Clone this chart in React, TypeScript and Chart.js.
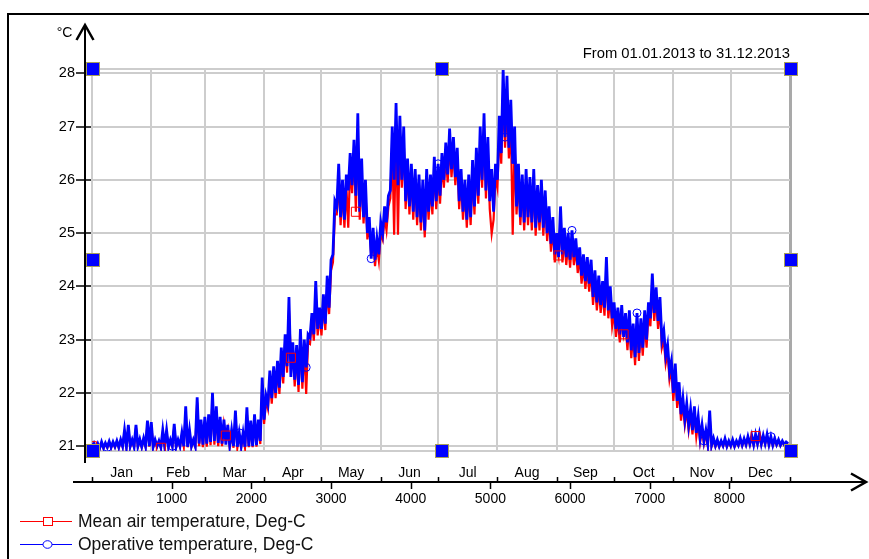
import React, { useEffect, useRef } from "react";
import { Chart, registerables } from "chart.js";

Chart.register(...registerables);

const titleText = "From 01.01.2013 to 31.12.2013";
const yUnit = "°C";
const seriesNames = ["Mean air temperature, Deg-C", "Operative temperature, Deg-C"];
const monthNames = ["Jan", "Feb", "Mar", "Apr", "May", "Jun", "Jul", "Aug", "Sep", "Oct", "Nov", "Dec"];
const monthStartHours = [0, 744, 1416, 2160, 2880, 3624, 4344, 5088, 5832, 6552, 7296, 8016, 8760];
const hourTicks = [1000, 2000, 3000, 4000, 5000, 6000, 7000, 8000];
const yTicks = [21, 22, 23, 24, 25, 26, 27, 28];
const stepHours = 24;

// Mean air temperature (one value per 24 h, alternating daily low/high)
const meanAirTemp = [
  21.00, 21.04, 20.96, 21.03, 20.95, 21.06, 20.96, 21.04, 20.97, 21.07,
  20.97, 21.06, 20.98, 21.08, 20.97, 21.10, 20.99, 21.25, 20.98, 21.35,
  20.99, 21.10, 20.98, 21.35, 20.99, 21.11, 20.98, 21.13, 20.99, 21.42,
  20.99, 21.40, 20.98, 21.10, 20.99, 21.08, 20.97, 21.25, 20.99, 21.25,
  20.98, 21.10, 20.99, 21.36, 20.98, 21.10, 20.99, 21.20, 20.99, 21.65,
  20.98, 21.25, 20.99, 21.10, 20.99, 21.82, 21.00, 21.42, 20.98, 21.46,
  20.99, 21.50, 21.02, 21.88, 21.03, 21.62, 21.00, 21.45, 21.00, 21.42,
  21.20, 21.33, 20.98, 21.24, 20.97, 21.55, 20.97, 21.20, 20.98, 21.20,
  20.97, 21.60, 20.98, 21.40, 20.98, 21.50, 20.99, 21.42, 21.04, 22.15,
  21.42, 21.85, 21.70, 22.28, 21.80, 22.38, 21.90, 22.45, 21.98, 22.70,
  22.18, 22.95, 22.38, 23.55, 22.66, 22.80, 22.12, 22.75, 22.02, 23.02,
  22.08, 22.85, 21.98, 22.95, 22.92, 23.35, 22.98, 23.85, 23.08, 23.45,
  23.08, 23.68, 23.18, 23.95, 23.48, 24.30, 24.45, 25.35, 25.35, 26.00,
  25.15, 25.80, 25.10, 25.90, 25.10, 26.25, 25.75, 26.50, 25.40, 26.90,
  25.25, 26.20, 25.18, 25.80, 24.88, 25.15, 24.58, 24.95, 24.38, 24.75,
  24.48, 25.00, 24.88, 25.30, 25.05, 25.50, 25.65, 26.70, 24.97, 27.10,
  24.97, 26.90, 25.85, 26.75, 25.45, 26.20, 25.35, 26.10, 25.25, 26.00,
  25.15, 25.90, 25.05, 25.80, 24.92, 25.95, 25.25, 25.90, 25.35, 26.20,
  25.45, 26.10, 25.55, 26.30, 25.85, 26.45, 25.95, 26.70, 26.05, 26.55,
  25.90, 26.40, 25.45, 26.00, 25.25, 25.80, 25.10, 25.90, 25.15, 26.10,
  25.35, 26.35, 25.55, 26.70, 25.85, 26.95, 25.65, 26.55, 25.45, 24.99,
  25.25, 26.05, 25.85, 26.90, 26.30, 27.60, 26.60, 27.45, 26.40, 27.10,
  24.97, 26.70, 25.35, 26.05, 25.15, 25.90, 25.05, 25.95, 25.15, 25.85,
  25.05, 25.95, 24.95, 25.70, 25.05, 25.80, 24.95, 25.60, 24.85, 25.30,
  24.65, 25.10, 24.45, 24.80, 24.58, 25.25, 24.45, 24.90, 24.40, 24.80,
  24.35, 24.85, 24.40, 24.70, 24.25, 24.55, 24.05, 24.40, 23.95, 24.35,
  23.90, 24.30, 23.65, 24.10, 23.55, 24.00, 23.50, 23.90, 23.45, 24.30,
  23.40, 23.80, 23.25, 23.50, 23.05, 23.40, 22.95, 23.45, 23.10, 23.30,
  22.80, 23.35, 22.65, 23.10, 22.52, 23.30, 22.60, 23.20, 22.70, 23.35,
  22.85, 23.50, 23.25, 24.00, 23.35, 23.78, 23.20, 23.60, 22.85, 23.00,
  22.55, 22.75, 22.25, 22.45, 21.85, 22.40, 21.72, 22.05, 21.48, 21.78,
  21.40, 21.68, 21.30, 21.60, 21.22, 21.62, 21.17, 21.45, 21.08, 21.32,
  21.05, 21.24, 21.01, 21.55, 21.00, 21.12, 20.99, 21.10, 20.99, 21.08,
  21.00, 21.12, 20.99, 21.08, 21.00, 21.10, 20.99, 21.08, 21.01, 21.12,
  21.01, 21.12, 21.02, 21.15, 21.03, 21.17, 21.02, 21.19, 21.04, 21.20,
  21.03, 21.17, 21.04, 21.19, 21.02, 21.15, 21.01, 21.12, 21.02, 21.10,
  21.01, 21.08, 21.02, 21.06, 21.04,
];

// Operative temperature (one value per 24 h, alternating daily low/high)
const operativeTemp = [
  21.00, 21.06, 20.97, 21.05, 20.96, 21.08, 20.97, 21.06, 20.98, 21.09,
  20.98, 21.08, 20.99, 21.10, 20.98, 21.12, 21.00, 21.30, 20.99, 21.40,
  21.00, 21.12, 20.99, 21.40, 21.00, 21.13, 20.99, 21.15, 21.00, 21.48,
  21.00, 21.45, 20.99, 21.12, 21.00, 21.10, 20.98, 21.30, 21.00, 21.30,
  20.99, 21.12, 21.00, 21.42, 20.99, 21.12, 21.00, 21.25, 21.00, 21.75,
  20.99, 21.30, 21.00, 21.12, 21.00, 21.92, 21.05, 21.50, 21.03, 21.55,
  21.05, 21.60, 21.08, 22.00, 21.10, 21.75, 21.06, 21.55, 21.05, 21.50,
  21.03, 21.40, 21.02, 21.30, 21.00, 21.67, 20.99, 21.25, 21.00, 21.25,
  20.99, 21.73, 21.00, 21.48, 21.00, 21.60, 21.02, 21.50, 21.10, 22.29,
  21.50, 21.95, 21.80, 22.42, 21.90, 22.50, 22.00, 22.60, 22.10, 22.85,
  22.30, 23.10, 22.50, 23.80, 22.30, 22.95, 22.25, 22.90, 22.15, 23.20,
  22.20, 23.00, 22.48, 23.10, 23.05, 23.50, 23.10, 24.10, 23.20, 23.60,
  23.20, 23.85, 23.30, 24.20, 23.60, 24.50, 24.60, 25.60, 25.50, 26.30,
  25.30, 26.00, 25.25, 26.10, 25.80, 26.50, 25.90, 26.75, 25.70, 27.25,
  25.40, 26.40, 25.30, 26.00, 25.00, 25.30, 24.52, 25.10, 24.50, 24.90,
  24.60, 25.20, 25.00, 25.50, 25.20, 25.70, 25.80, 27.00, 26.00, 27.44,
  25.90, 27.20, 26.00, 27.00, 25.60, 26.40, 25.50, 26.30, 25.40, 26.20,
  25.30, 26.10, 25.20, 26.00, 25.05, 26.20, 25.40, 26.10, 25.50, 26.43,
  25.60, 26.30, 25.70, 26.50, 26.00, 26.70, 26.10, 26.96, 26.20, 26.80,
  26.05, 26.60, 25.60, 26.20, 25.40, 26.00, 25.25, 26.10, 25.30, 26.37,
  25.50, 26.60, 25.70, 27.00, 26.00, 27.25, 25.80, 26.80, 25.60, 26.20,
  25.40, 26.30, 26.00, 27.20, 26.50, 28.08, 26.80, 27.95, 26.60, 27.50,
  26.30, 27.00, 25.50, 26.30, 25.30, 26.10, 25.20, 26.20, 25.30, 26.05,
  25.20, 26.20, 25.10, 25.90, 25.20, 26.00, 25.10, 25.80, 25.00, 25.50,
  24.80, 25.30, 24.60, 25.00, 24.55, 25.50, 24.60, 25.10, 24.55, 25.00,
  24.50, 25.05, 24.55, 24.90, 24.40, 24.73, 24.20, 24.60, 24.10, 24.55,
  24.05, 24.50, 23.80, 24.30, 23.70, 24.20, 23.65, 24.10, 23.60, 24.55,
  23.55, 24.00, 23.40, 23.70, 23.20, 23.60, 23.10, 23.65, 23.05, 23.50,
  22.95, 23.55, 22.80, 23.30, 22.67, 23.50, 22.75, 23.40, 22.85, 23.55,
  23.00, 23.70, 23.40, 24.24, 23.50, 23.98, 23.35, 23.80, 23.00, 23.17,
  22.70, 22.90, 22.40, 22.60, 22.00, 22.55, 21.85, 22.20, 21.60, 21.90,
  21.50, 21.80, 21.40, 21.70, 21.30, 21.75, 21.25, 21.55, 21.15, 21.40,
  21.10, 21.30, 21.05, 21.67, 21.02, 21.15, 21.01, 21.12, 21.00, 21.10,
  21.01, 21.14, 21.00, 21.10, 21.01, 21.12, 21.00, 21.10, 21.02, 21.15,
  21.02, 21.14, 21.03, 21.18, 21.04, 21.20, 21.03, 21.22, 21.05, 21.24,
  21.04, 21.20, 21.05, 21.22, 21.03, 21.18, 21.02, 21.15, 21.03, 21.12,
  21.02, 21.10, 21.03, 21.08, 21.05,
];

const meanAirMarkerIdx = [0, 36, 70, 104, 138, 244, 278, 347];
const operativeMarkerIdx = [8, 42, 77, 112, 146, 181, 216, 251, 285, 320, 355];

const FONT = "'Liberation Sans', Arial, sans-serif";
const RED = "#ff0000";
const BLUE = "#0000ff";
const GRID = "#cdcdcd";

const monthMidHours = monthNames.map((_, k) => (monthStartHours[k] + monthStartHours[k + 1]) / 2);

const toPoints = (arr: number[]) => arr.map((v, i) => ({ x: i * stepHours, y: v }));
const toMarkerPoints = (arr: number[], idx: number[]) => idx.map((i) => ({ x: i * stepHours, y: arr[i] }));

const decorPlugin = {
  id: "decor",
  beforeDraw(chart: any) {
    const { ctx, width, height } = chart;
    ctx.save();
    ctx.fillStyle = "#ffffff";
    ctx.fillRect(0, 0, width, height);
    ctx.strokeStyle = "#000";
    ctx.lineWidth = 2;
    ctx.beginPath();
    ctx.moveTo(8, height);
    ctx.lineTo(8, 14);
    ctx.lineTo(width, 14);
    ctx.stroke();
    ctx.restore();
  },
  afterDraw(chart: any) {
    const { ctx, chartArea: ca } = chart;
    const xs = chart.scales.x;
    const axisY = chart.scales.xh.top;
    const axisX = ca.left - 7;
    ctx.save();

    // plot top border
    ctx.strokeStyle = GRID;
    ctx.lineWidth = 2;
    ctx.beginPath();
    ctx.moveTo(ca.left, ca.top);
    ctx.lineTo(ca.right, ca.top);
    ctx.stroke();

    // y axis line + arrow
    ctx.strokeStyle = "#000";
    ctx.lineWidth = 2;
    ctx.beginPath();
    ctx.moveTo(axisX, ca.bottom + 12);
    ctx.lineTo(axisX, 25);
    ctx.stroke();
    ctx.lineWidth = 2.5;
    ctx.lineJoin = "miter";
    ctx.beginPath();
    ctx.moveTo(axisX - 8.5, 40);
    ctx.lineTo(axisX, 25);
    ctx.lineTo(axisX + 8.5, 40);
    ctx.stroke();

    // x axis line + arrow
    ctx.lineWidth = 2;
    ctx.beginPath();
    ctx.moveTo(73, axisY);
    ctx.lineTo(864, axisY);
    ctx.stroke();
    ctx.lineWidth = 2.5;
    ctx.beginPath();
    ctx.moveTo(851, axisY - 8.5);
    ctx.lineTo(866, axisY);
    ctx.lineTo(851, axisY + 8.5);
    ctx.stroke();

    // month boundary ticks (up) and hour ticks (down)
    ctx.lineWidth = 1.5;
    ctx.beginPath();
    monthStartHours.forEach((h) => {
      const px = Math.round(xs.getPixelForValue(h)) + 0.5;
      ctx.moveTo(px, axisY - 5);
      ctx.lineTo(px, axisY);
    });
    hourTicks.forEach((h) => {
      const px = Math.round(xs.getPixelForValue(h)) + 0.5;
      ctx.moveTo(px, axisY);
      ctx.lineTo(px, axisY + 7);
    });
    ctx.stroke();

    // unit label
    ctx.fillStyle = "#000";
    ctx.font = `14px ${FONT}`;
    ctx.textAlign = "center";
    ctx.textBaseline = "middle";
    ctx.fillText(yUnit, 64.5, 33.5);

    // selection handles
    const midX = (ca.left + ca.right) / 2;
    const midY = (ca.top + ca.bottom) / 2;
    const handles = [
      [ca.left, ca.top], [midX, ca.top], [ca.right, ca.top],
      [ca.left, midY], [ca.right, midY],
      [ca.left, ca.bottom], [midX, ca.bottom], [ca.right, ca.bottom],
    ];
    handles.forEach(([hx, hy]) => {
      const cx = Math.round(hx) + 1;
      const cy = Math.round(hy);
      ctx.fillStyle = BLUE;
      ctx.fillRect(cx - 6, cy - 6, 12, 12);
      ctx.strokeStyle = "#a89f5a";
      ctx.lineWidth = 1;
      ctx.strokeRect(cx - 6.5, cy - 6.5, 13, 13);
    });

    // legend
    const legendRows = [
      { name: seriesNames[0], color: RED, y: 521, marker: "rect" },
      { name: seriesNames[1], color: BLUE, y: 544, marker: "circle" },
    ];
    legendRows.forEach((r) => {
      ctx.strokeStyle = r.color;
      ctx.lineWidth = 1;
      ctx.beginPath();
      ctx.moveTo(20, r.y + 0.5);
      ctx.lineTo(72, r.y + 0.5);
      ctx.stroke();
      ctx.fillStyle = "#ffffff";
      if (r.marker === "rect") {
        ctx.fillRect(43.5, r.y - 4, 9, 9);
        ctx.strokeRect(43.5, r.y - 3.5, 9, 8);
      } else {
        ctx.beginPath();
        ctx.ellipse(47.5, r.y + 0.5, 4.5, 3.8, 0, 0, Math.PI * 2);
        ctx.fill();
        ctx.stroke();
      }
      ctx.fillStyle = "#111";
      ctx.font = `17.5px ${FONT}`;
      ctx.textAlign = "left";
      ctx.textBaseline = "middle";
      ctx.fillText(r.name, 78, r.y + 1);
    });

    ctx.restore();
  },
};

export default function App() {
  const ref = useRef<HTMLCanvasElement>(null);

  useEffect(() => {
    document.body.style.margin = "0";
    const canvas = ref.current;
    if (!canvas) return;

    const chart = new Chart(canvas, {
      type: "line",
      data: {
        datasets: [
          {
            label: seriesNames[0],
            data: toPoints(meanAirTemp),
            borderColor: RED,
            borderWidth: 2.2,
            order: 2,
            pointRadius: 0,
            tension: 0,
          },
          {
            label: seriesNames[1],
            data: toPoints(operativeTemp),
            borderColor: BLUE,
            borderWidth: 2.8,
            order: 1,
            pointRadius: 0,
            tension: 0,
          },
          {
            label: seriesNames[0] + " markers",
            data: toMarkerPoints(meanAirTemp, meanAirMarkerIdx),
            showLine: false,
            order: 0,
            pointStyle: "rect",
            pointRadius: 6.4,
            pointBorderColor: RED,
            pointBackgroundColor: "rgba(0,0,0,0)",
            pointBorderWidth: 1,
          },
          {
            label: seriesNames[1] + " markers",
            data: toMarkerPoints(operativeTemp, operativeMarkerIdx),
            showLine: false,
            order: 0,
            pointStyle: "circle",
            pointRadius: 4,
            pointBorderColor: BLUE,
            pointBackgroundColor: "rgba(0,0,0,0)",
            pointBorderWidth: 1,
          },
        ],
      },
      options: {
        responsive: false,
        animation: false,
        events: [],
        layout: { padding: { left: 0, right: 79, top: 38, bottom: 47 } },
        plugins: {
          legend: { display: false },
          tooltip: { enabled: false },
          title: {
            display: true,
            text: titleText,
            align: "end",
            color: "#000",
            font: { family: FONT, size: 14.8, weight: "normal" },
            padding: { top: 7, bottom: 6.2 },
          },
        },
        scales: {
          x: {
            type: "linear",
            position: "bottom",
            weight: 0,
            min: 0,
            max: 8760,
            bounds: "data",
            afterBuildTicks: (s: any) => {
              const vals = [...monthStartHours, ...monthMidHours].sort((a, b) => a - b);
              s.ticks = vals.map((v) => ({ value: v }));
            },
            afterFit: (s: any) => {
              s.height = 31;
            },
            grid: {
              color: (c: any) => {
                const v = c.tick && c.tick.value;
                if (v === 8760) return "#a9a9a9";
                return monthStartHours.includes(v) ? GRID : "rgba(0,0,0,0)";
              },
              lineWidth: (c: any) => (c.tick && c.tick.value === 8760 ? 3 : 2),
              drawTicks: true,
              tickLength: 14,
              tickColor: "rgba(0,0,0,0)",
            },
            border: { display: true, color: GRID, width: 2 },
            ticks: {
              autoSkip: false,
              maxRotation: 0,
              minRotation: 0,
              padding: 0,
              color: "#000",
              font: { family: FONT, size: 14 },
              callback: (v: any) => {
                const k = monthMidHours.indexOf(v);
                return k >= 0 ? monthNames[k] : "";
              },
            },
          },
          xh: {
            type: "linear",
            position: "bottom",
            weight: 1,
            min: 0,
            max: 8760,
            bounds: "data",
            afterBuildTicks: (s: any) => {
              s.ticks = hourTicks.map((v) => ({ value: v }));
            },
            afterFit: (s: any) => {
              s.height = 30;
            },
            grid: {
              drawOnChartArea: false,
              drawTicks: true,
              tickLength: 9,
              tickColor: "rgba(0,0,0,0)",
            },
            border: { display: false },
            ticks: {
              autoSkip: false,
              maxRotation: 0,
              minRotation: 0,
              padding: 0,
              color: "#000",
              font: { family: FONT, size: 14 },
              callback: (v: any) => String(v),
            },
          },
          y: {
            type: "linear",
            position: "left",
            min: 20.91,
            max: 28.08,
            bounds: "data",
            afterBuildTicks: (s: any) => {
              s.ticks = yTicks.map((v) => ({ value: v }));
            },
            afterFit: (s: any) => {
              s.width = 92;
            },
            grid: {
              color: GRID,
              lineWidth: 2,
              drawTicks: true,
              tickLength: 16,
              tickColor: "#000",
              tickWidth: 1.5,
            },
            border: { display: true, color: GRID, width: 2 },
            ticks: {
              padding: 1,
              color: "#000",
              font: { family: FONT, size: 14.5 },
              callback: (v: any) => String(v),
            },
          },
        },
      } as any,
      plugins: [decorPlugin as any],
    });

    return () => chart.destroy();
  }, []);

  return (
    <div style={{ width: 869, height: 559, position: "relative" }}>
      <canvas ref={ref} width={869} height={559} style={{ display: "block", width: 869, height: 559 }} />
    </div>
  );
}
